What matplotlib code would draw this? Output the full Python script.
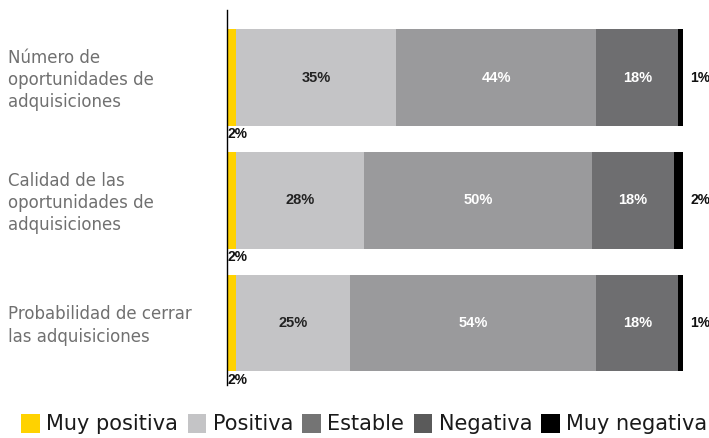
import matplotlib.pyplot as plt
import numpy as np
from matplotlib.patches import Patch
from matplotlib.transforms import blended_transform_factory

categories = ["Número de\noportunidades de\nadquisiciones",
              "Calidad de las\noportunidades de\nadquisiciones",
              "Probabilidad de cerrar\nlas adquisiciones"]
series = ["Muy positiva", "Positiva", "Estable", "Negativa", "Muy negativa"]
muy_positiva = [2, 2, 2]
positiva = [35, 28, 25]
estable = [44, 50, 54]
negativa = [18, 18, 18]
muy_negativa = [1, 2, 1]

bar_colors = ["#ffd200", "#c4c4c6", "#9a9a9c", "#6e6e70", "#000000"]
legend_colors = ["#ffd200", "#c4c4c6", "#747474", "#5a5a5a", "#000000"]
text_colors = [None, "#222222", "white", "white", None]

values = np.array([muy_positiva, positiva, estable, negativa, muy_negativa])

fig = plt.figure(figsize=(7.09, 4.38), dpi=100)
ax = fig.add_axes([227 / 709, 53 / 438, 1 - 227 / 709, 375 / 438])

pct_font = ["Liberation Sans", "DejaVu Sans"]
y = np.arange(len(categories))
h = 0.79
left = np.zeros(len(categories))
for k in range(len(series)):
    ax.barh(y, values[k], left=left, height=h, color=bar_colors[k])
    if text_colors[k]:
        for i in range(len(categories)):
            ax.text(left[i] + values[k][i] / 2, y[i], f"{values[k][i]}%",
                    ha="center", va="center", fontsize=10.5, fontweight="bold",
                    family=pct_font, color=text_colors[k])
    left += values[k]

# small end labels
for i in range(len(categories)):
    ax.text(0.1, y[i] + h / 2 + 0.01, f"{muy_positiva[i]}%", ha="left", va="top",
            fontsize=10, fontweight="bold", family=pct_font, color="#111111")
    ax.text(left[i] + 1.6, y[i], f"{muy_negativa[i]}%", ha="left", va="center",
            fontsize=10, fontweight="bold", family=pct_font, color="#111111")

ax.set_xlim(0, 105.7)
ax.set_ylim(2.505, -0.55)
for s in ["top", "right", "bottom"]:
    ax.spines[s].set_visible(False)
ax.spines["left"].set_linewidth(1)
ax.set_xticks([])
ax.set_yticks([])

trans = blended_transform_factory(fig.transFigure, ax.transData)
for i, cat in enumerate(categories):
    ax.text(8 / 709, y[i] + 0.02, cat, transform=trans, ha="left", va="center",
            fontsize=12, color="#707070", linespacing=1.3, clip_on=False)

handles = [Patch(facecolor=c, edgecolor="none") for c in legend_colors]
fig.legend(handles, series, loc="center", bbox_to_anchor=(0.514, 0.032), ncol=5,
           frameon=False, handlelength=0.9, handleheight=1.05, handletextpad=0.3,
           columnspacing=0.45, borderaxespad=0, labelcolor="#1a1a1a",
           prop={"family": "DejaVu Sans", "size": 15})

fig.savefig("out.png", dpi=100)
